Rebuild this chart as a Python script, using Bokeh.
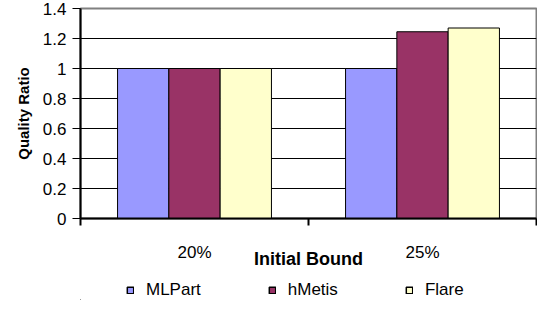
import numpy as np
from bokeh.plotting import figure
from bokeh.layouts import column
from bokeh.models import ColumnDataSource, FixedTicker, Legend, LegendItem, Range1d
from bokeh.embed import file_html
from bokeh.resources import INLINE

categories = ["20%", "25%"]
series = ["MLPart", "hMetis", "Flare"]
mlpart = [1.0, 1.0]
hmetis = [1.0, 1.245]
flare = [1.0, 1.27]
colors = ["#9999FF", "#993366", "#FFFFCC"]
yticks = [0, 0.2, 0.4, 0.6, 0.8, 1.0, 1.2, 1.4]
ytick_labels = ["0", "0.2", "0.4", "0.6", "0.8", "1", "1.2", "1.4"]

FONT = "Liberation Sans"

p = figure(width=537, height=278, output_backend="svg", toolbar_location=None,
           x_range=Range1d(0, len(categories)), y_range=Range1d(0, 1.4),
           min_border_left=80, min_border_right=1, min_border_top=8, min_border_bottom=60)

bar_w = 0.225
offsets = [-bar_w, 0.0, bar_w]
centers = np.arange(len(categories)) + 0.5
for name, vals, col, off in zip(series, [mlpart, hmetis, flare], colors, offsets):
    src = ColumnDataSource(dict(x=centers + off, top=vals))
    p.vbar(x="x", top="top", width=bar_w, bottom=0, source=src,
           fill_color=col, line_color="black", line_width=1)

# axes
p.xaxis.ticker = FixedTicker(ticks=list(centers), minor_ticks=list(range(len(categories) + 1)))
p.xaxis.major_label_overrides = {float(c): lab for c, lab in zip(centers, categories)}
p.xaxis.major_tick_line_color = None
p.xaxis.major_tick_out = 0
p.xaxis.major_tick_in = 0
p.xaxis.minor_tick_line_color = "black"
p.xaxis.minor_tick_line_width = 2
p.xaxis.minor_tick_out = 7
p.xaxis.minor_tick_in = 0
p.xaxis.major_label_standoff = 17
p.xaxis.axis_line_color = "black"
p.xaxis.axis_line_width = 2
p.xaxis.axis_label = "Initial Bound"
p.xaxis.axis_label_standoff = -16

p.yaxis.ticker = FixedTicker(ticks=yticks)
p.yaxis.major_label_overrides = {t: l for t, l in zip(yticks, ytick_labels)}
p.yaxis.minor_tick_line_color = None
p.yaxis.major_tick_out = 8
p.yaxis.major_tick_in = 0
p.yaxis.major_tick_line_color = "black"
p.yaxis.major_tick_line_width = 1
p.yaxis.major_label_standoff = 6
p.yaxis.axis_line_color = "black"
p.yaxis.axis_line_width = 2
p.yaxis.axis_label = "Quality Ratio"
p.yaxis.axis_label_standoff = 8

for ax in (p.xaxis[0], p.yaxis[0]):
    ax.major_label_text_font = FONT
    ax.major_label_text_font_size = "17px"
    ax.major_label_text_color = "black"
    ax.axis_label_text_font = FONT
    ax.axis_label_text_font_style = "bold"
    ax.axis_label_text_color = "black"
p.xaxis.axis_label_text_font_size = "18px"
p.yaxis.axis_label_text_font_size = "15px"

p.xgrid.grid_line_color = None
p.ygrid.ticker = FixedTicker(ticks=yticks[1:-1])
p.ygrid.grid_line_color = "black"
p.ygrid.grid_line_width = 1
p.outline_line_color = "#808080"
p.outline_line_width = 2

# legend strip: a second figure (no axes) whose bars fall outside its ranges
lf = figure(width=537, height=22, output_backend="svg", toolbar_location=None,
            x_range=Range1d(10, 11), y_range=Range1d(10, 11),
            x_axis_location=None, y_axis_location=None,
            min_border_left=0, min_border_right=0, min_border_top=0, min_border_bottom=0)
lf.grid.grid_line_color = None
lf.outline_line_color = None
items = []
for name, vals, col, off in zip(series, [mlpart, hmetis, flare], colors, offsets):
    src = ColumnDataSource(dict(x=centers + off, top=vals))
    r = lf.vbar(x="x", top="top", width=bar_w, bottom=0, source=src,
                fill_color=col, line_color="black", line_width=1.5)
    items.append(LegendItem(label=name, renderers=[r]))

legend = Legend(items=items, orientation="horizontal", location=(46, 0),
                glyph_width=8, glyph_height=8, label_standoff=12, spacing=67,
                padding=0, margin=0, border_line_color=None, background_fill_alpha=0,
                label_text_font=FONT, label_text_font_size="17px", label_text_color="black")
lf.add_layout(legend)

layout = column(p, lf, spacing=0)
open("out.html", "w").write(file_html(layout, INLINE))
